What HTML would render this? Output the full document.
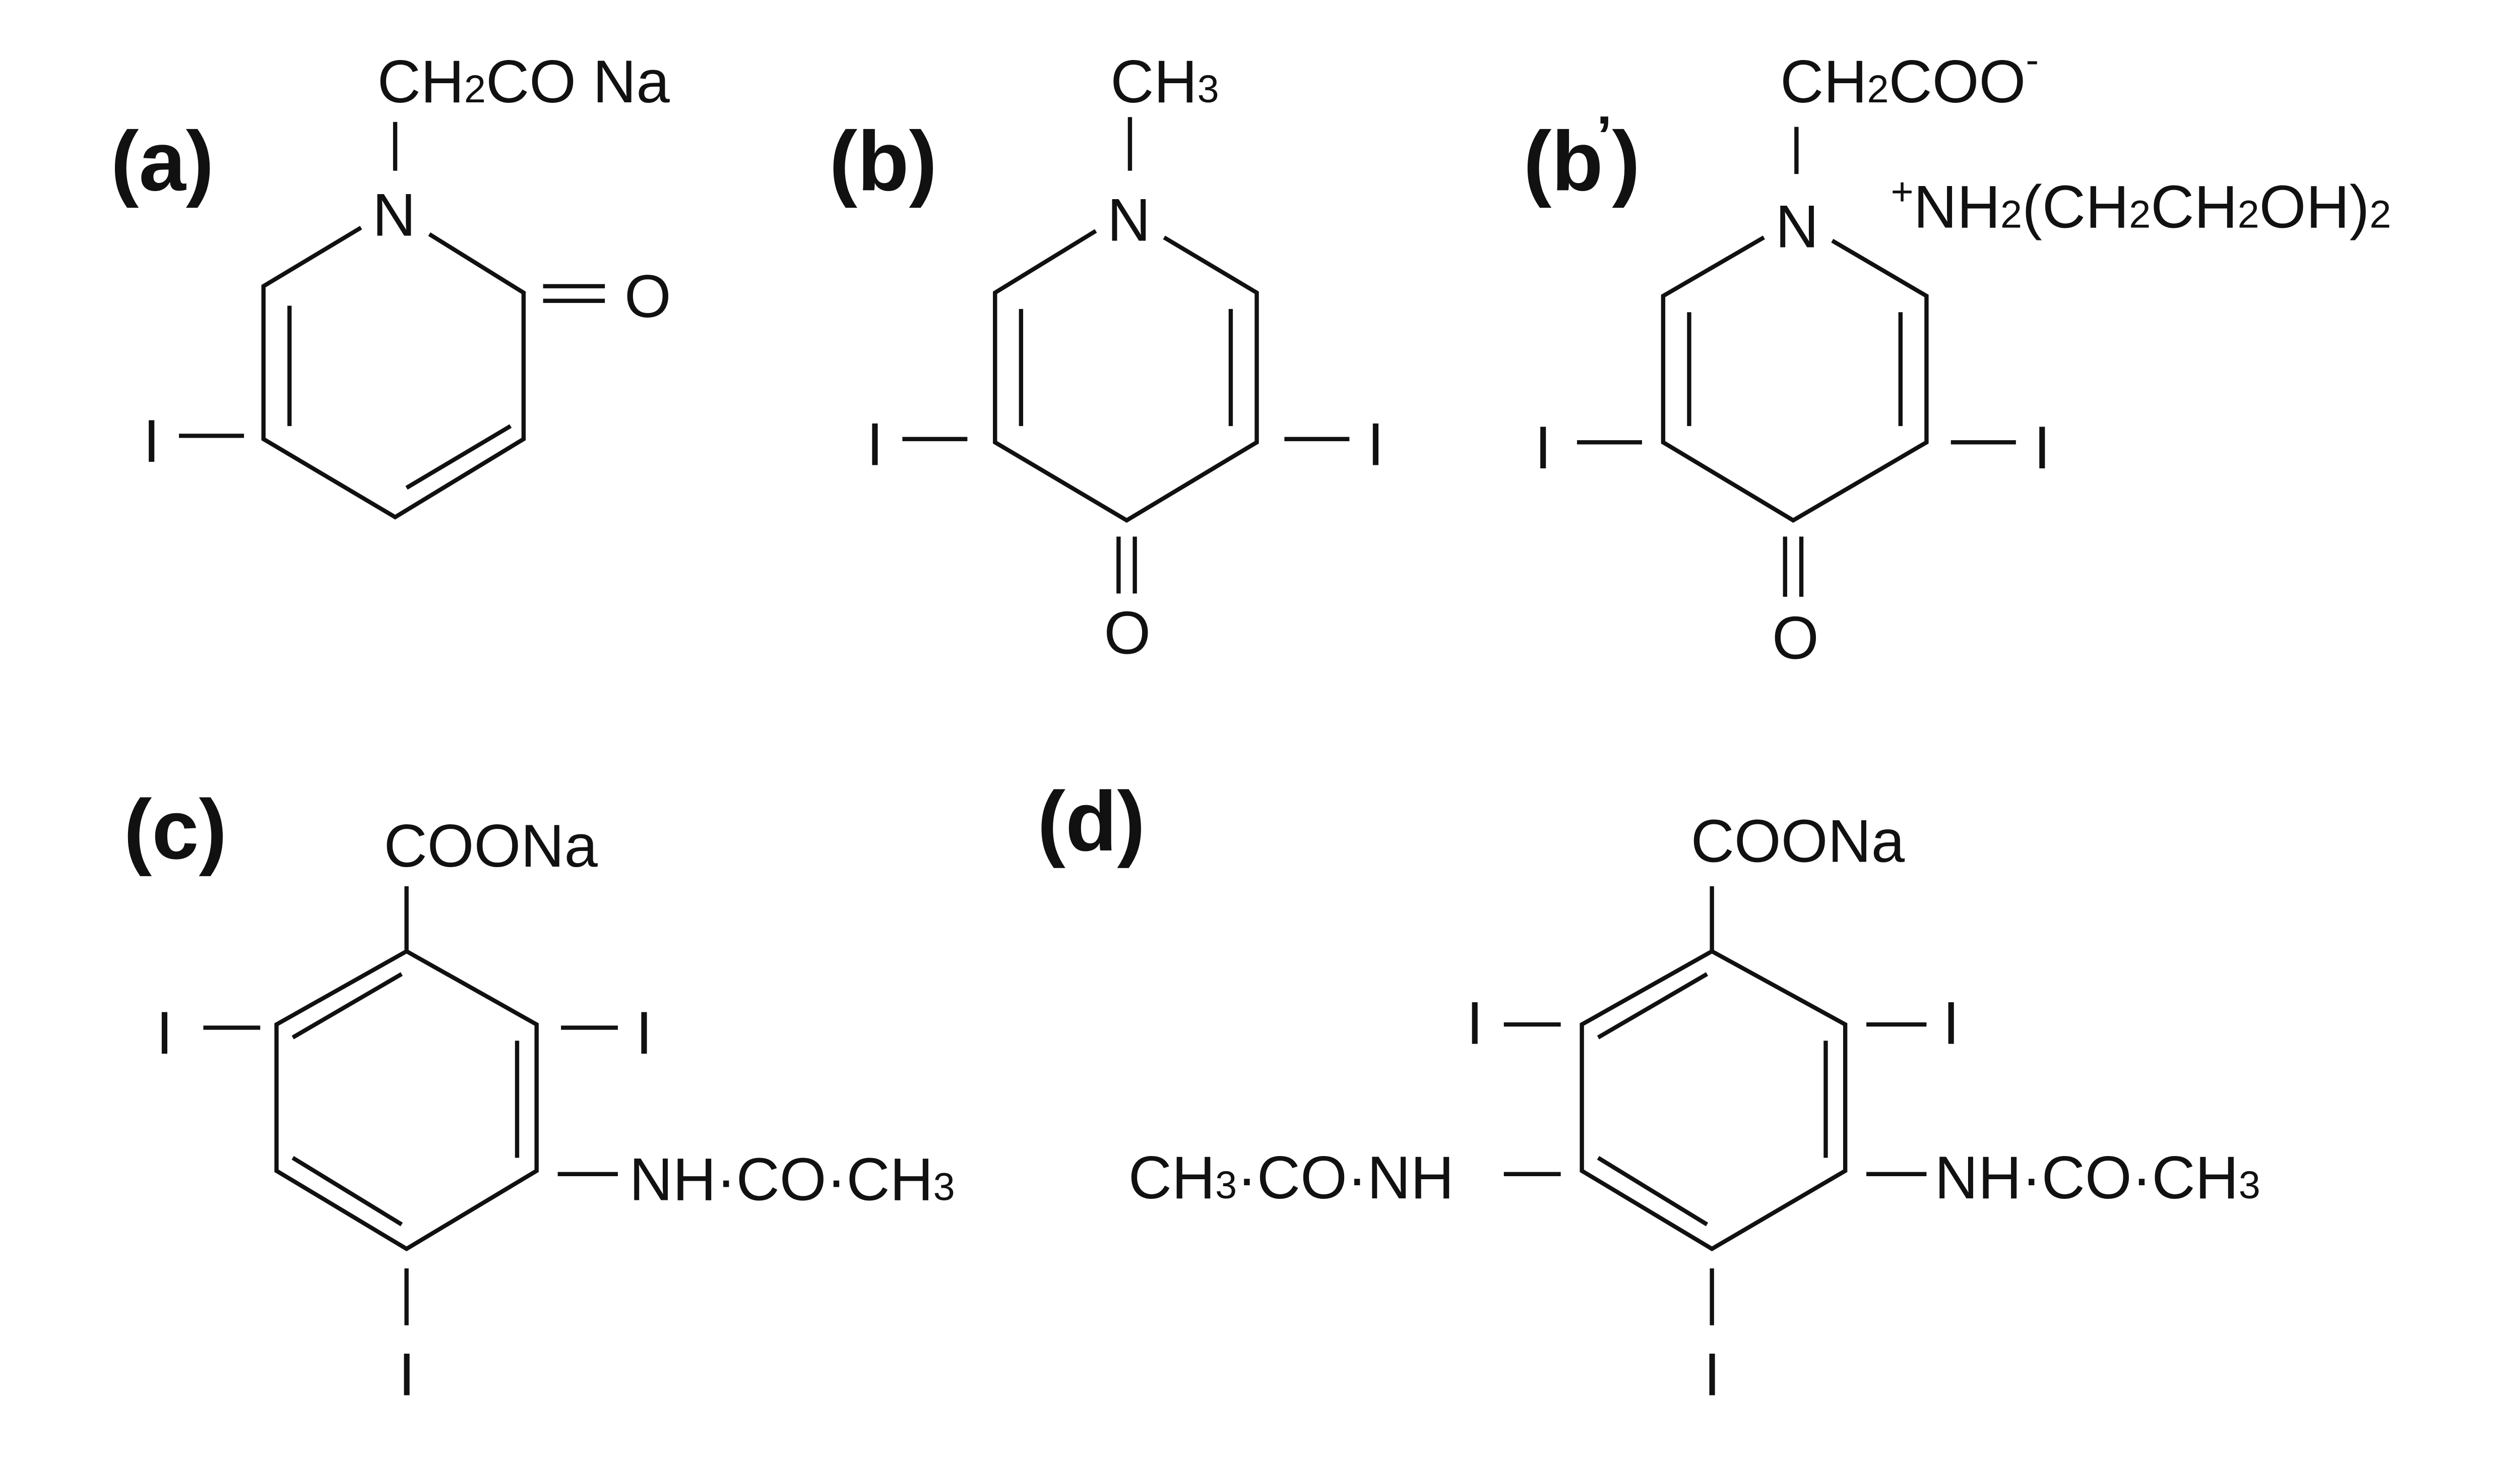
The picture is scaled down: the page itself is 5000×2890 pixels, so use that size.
<!DOCTYPE html>
<html><head><meta charset="utf-8"><style>
html,body{margin:0;padding:0;background:#fff;}
svg{display:block;}
text{font-family:"Liberation Sans",sans-serif;fill:#111;}
.t{font-size:37px;}
.s{font-size:24px;}
.b{font-size:52px;font-weight:bold;}
line,polyline{stroke:#111;stroke-width:2.6;fill:none;}
</style></head><body>
<svg width="5000" height="2890" viewBox="0 0 1550 896" xmlns="http://www.w3.org/2000/svg">
<!-- (a) -->
<text class="b" x="68" y="117">(a)</text>
<text class="t" x="232" y="63">CH<tspan class="s">2</tspan>CO Na</text>
<line x1="243" y1="75" x2="243" y2="105"/>
<text class="t" x="229" y="145">N</text>
<polyline points="222,140 162,176 162,270 243,318 322,270 322,180 264,144"/>
<line x1="178" y1="188" x2="178" y2="262"/>
<line x1="250" y1="300" x2="314" y2="262"/>
<line x1="334" y1="176" x2="372" y2="176"/>
<line x1="334" y1="185" x2="372" y2="185"/>
<text class="t" x="384" y="195">O</text>
<text class="t" x="88" y="284">I</text>
<line x1="110" y1="268" x2="150" y2="268"/>
<!-- (b) -->
<text class="b" x="510" y="117">(b)</text>
<text class="t" x="683" y="63">CH<tspan class="s">3</tspan></text>
<line x1="695" y1="72" x2="695" y2="105"/>
<text class="t" x="681" y="148">N</text>
<polyline points="674,142 612,180 612,272 693,320 773,272 773,180 716,146"/>
<line x1="628" y1="190" x2="628" y2="262"/>
<line x1="757" y1="190" x2="757" y2="262"/>
<line x1="688" y1="330" x2="688" y2="365"/>
<line x1="698" y1="330" x2="698" y2="365"/>
<text class="t" x="679" y="402">O</text>
<text class="t" x="533" y="286">I</text>
<line x1="555" y1="270" x2="595" y2="270"/>
<line x1="790" y1="270" x2="830" y2="270"/>
<text class="t" x="841" y="286">I</text>
<!-- (b') -->
<text class="b" x="937" y="117">(b<tspan dx="-4" dy="-22" font-size="34">’</tspan><tspan dy="22">)</tspan></text>
<text class="t" x="1095" y="63">CH<tspan class="s">2</tspan>COO<tspan class="s" dy="-18" font-size="34">-</tspan></text>
<line x1="1105" y1="78" x2="1105" y2="107"/>
<text class="t" x="1092" y="152">N</text>
<text class="t" x="1163" y="140"><tspan class="s" dy="-14">+</tspan><tspan dy="14">NH</tspan><tspan class="s">2</tspan>(CH<tspan class="s">2</tspan>CH<tspan class="s">2</tspan>OH)<tspan class="s">2</tspan></text>
<polyline points="1085,146 1023,182 1023,272 1103,320 1185,272 1185,182 1127,148"/>
<line x1="1039" y1="192" x2="1039" y2="262"/>
<line x1="1169" y1="192" x2="1169" y2="262"/>
<line x1="1098" y1="330" x2="1098" y2="367"/>
<line x1="1108" y1="330" x2="1108" y2="367"/>
<text class="t" x="1090" y="405">O</text>
<text class="t" x="944" y="288">I</text>
<line x1="970" y1="272" x2="1010" y2="272"/>
<line x1="1200" y1="272" x2="1240" y2="272"/>
<text class="t" x="1251" y="288">I</text>
<!-- (c) -->
<text class="b" x="76" y="528">(c)</text>
<text class="t" x="236" y="533">COONa</text>
<line x1="250" y1="545" x2="250" y2="585"/>
<polyline points="250,585 330,630 330,720 250,768 170,720 170,630 250,585"/>
<line x1="180" y1="638" x2="247" y2="599"/>
<line x1="318" y1="640" x2="318" y2="712"/>
<line x1="180" y1="712" x2="247" y2="753"/>
<text class="t" x="96" y="648">I</text>
<line x1="125" y1="632" x2="160" y2="632"/>
<line x1="345" y1="632" x2="380" y2="632"/>
<text class="t" x="391" y="648">I</text>
<line x1="343" y1="722" x2="380" y2="722"/>
<text class="t" x="387" y="738">NH·CO·CH<tspan class="s">3</tspan></text>
<line x1="250" y1="780" x2="250" y2="815"/>
<text class="t" x="245" y="858">I</text>
<!-- (d) -->
<text class="b" x="638" y="523">(d)</text>
<text class="t" x="1040" y="530">COONa</text>
<line x1="1053" y1="545" x2="1053" y2="585"/>
<polyline points="1053,585 1135,630 1135,720 1053,768 973,720 973,630 1053,585"/>
<line x1="983" y1="638" x2="1050" y2="599"/>
<line x1="1123" y1="640" x2="1123" y2="712"/>
<line x1="983" y1="712" x2="1050" y2="753"/>
<text class="t" x="902" y="642">I</text>
<line x1="925" y1="630" x2="960" y2="630"/>
<line x1="1148" y1="630" x2="1185" y2="630"/>
<text class="t" x="1195" y="642">I</text>
<text class="t" x="694" y="737">CH<tspan class="s">3</tspan>·CO·NH</text>
<line x1="925" y1="722" x2="960" y2="722"/>
<line x1="1148" y1="722" x2="1185" y2="722"/>
<text class="t" x="1190" y="737">NH·CO·CH<tspan class="s">3</tspan></text>
<line x1="1053" y1="780" x2="1053" y2="815"/>
<text class="t" x="1048" y="858">I</text>
</svg>
</body></html>
